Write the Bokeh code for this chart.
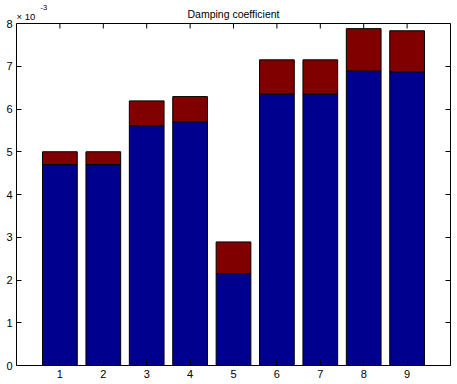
import math
from bokeh.plotting import figure
from bokeh.models import ColumnDataSource, Range1d, LinearAxis, FixedTicker, Label, Span
from bokeh.embed import file_html
from bokeh.resources import INLINE

# Data (values in units of 1e-3)
categories = [1, 2, 3, 4, 5, 6, 7, 8, 9]
series_base = [4.70, 4.70, 5.61, 5.70, 2.15, 6.35, 6.35, 6.89, 6.87]
series_extra = [0.30, 0.30, 0.58, 0.59, 0.74, 0.80, 0.80, 0.99, 0.96]
y_ticks = [0, 1, 2, 3, 4, 5, 6, 7, 8]
x_ticks = categories
title_text = "Damping coefficient"
scale_text = "\u00d7 10"
scale_exp = "-3"

tops = [b + e for b, e in zip(series_base, series_extra)]
src = ColumnDataSource(dict(x=categories, base=series_base, top=tops,
                            zero=[0] * len(categories)))

FONT = "Liberation Sans"
W, H = 457, 384
BORDER_BOTTOM = 19
FRAME_H = H - BORDER_BOTTOM          # frame spans the top border area too
AXES_TOP_PX = 23                     # distance of the axes box top from the canvas top
Y_MAX = y_ticks[-1]
Y_TOP = Y_MAX * FRAME_H / (FRAME_H - AXES_TOP_PX)
X0, X1 = 0, 10

p = figure(width=W, height=H, output_backend="svg", toolbar_location=None,
           x_range=Range1d(X0, X1), y_range=Range1d(0, Y_TOP),
           min_border_left=16, min_border_right=7, min_border_top=0,
           min_border_bottom=BORDER_BOTTOM)
p.title_location = None

p.xgrid.visible = False
p.ygrid.visible = False
p.outline_line_color = None
p.background_fill_color = "white"
p.border_fill_color = "white"

p.vbar(x="x", width=0.8, bottom="zero", top="base", source=src,
       fill_color="#00008F", line_color="black", line_width=1)
p.vbar(x="x", width=0.8, bottom="base", top="top", source=src,
       fill_color="#800000", line_color="black", line_width=1)

def style_axis(ax, ticks, labels=True):
    ax.ticker = FixedTicker(ticks=ticks)
    ax.minor_tick_line_color = None
    ax.major_tick_in = 5
    ax.major_tick_out = 0
    ax.axis_line_color = "black"
    ax.major_tick_line_color = "black"
    ax.major_label_text_font = FONT
    ax.major_label_text_font_size = "11px"
    ax.major_label_text_color = "black" if labels else None
    ax.major_label_standoff = 4

style_axis(p.xaxis[0], x_ticks)
style_axis(p.yaxis[0], y_ticks)
p.yaxis[0].bounds = (y_ticks[0], Y_MAX)

right_ax = LinearAxis()
style_axis(right_ax, y_ticks, labels=False)
right_ax.major_label_text_font_size = "0px"
right_ax.major_label_standoff = 0
right_ax.bounds = (y_ticks[0], Y_MAX)
p.add_layout(right_ax, "right")

# top edge of the axes box and its inward ticks
p.add_layout(Span(location=Y_MAX, dimension="width", line_color="black",
                  line_width=1))
p.ray(x=x_ticks, y=[Y_MAX] * len(x_ticks), length=5, length_units="screen",
      angle=-math.pi / 2, line_color="black", line_width=1)

# texts above the axes box (screen y measured from the frame bottom)
p.add_layout(Label(x=(X0 + X1) / 2, y=FRAME_H - 13.5, x_units="data",
                   y_units="screen", text=title_text, text_font=FONT,
                   text_font_size="10.5px", text_align="center",
                   text_baseline="alphabetic", text_color="black"))
p.add_layout(Label(x=0, y=FRAME_H - 15.5, x_units="screen", y_units="screen",
                   text=scale_text, text_font=FONT, text_font_size="9.5px",
                   text_baseline="alphabetic", text_color="black"))
p.add_layout(Label(x=24, y=FRAME_H - 6.5, x_units="screen", y_units="screen",
                   text=scale_exp, text_font=FONT, text_font_size="7.5px",
                   text_baseline="alphabetic", text_color="black"))

open("out.html", "w").write(file_html(p, INLINE))
